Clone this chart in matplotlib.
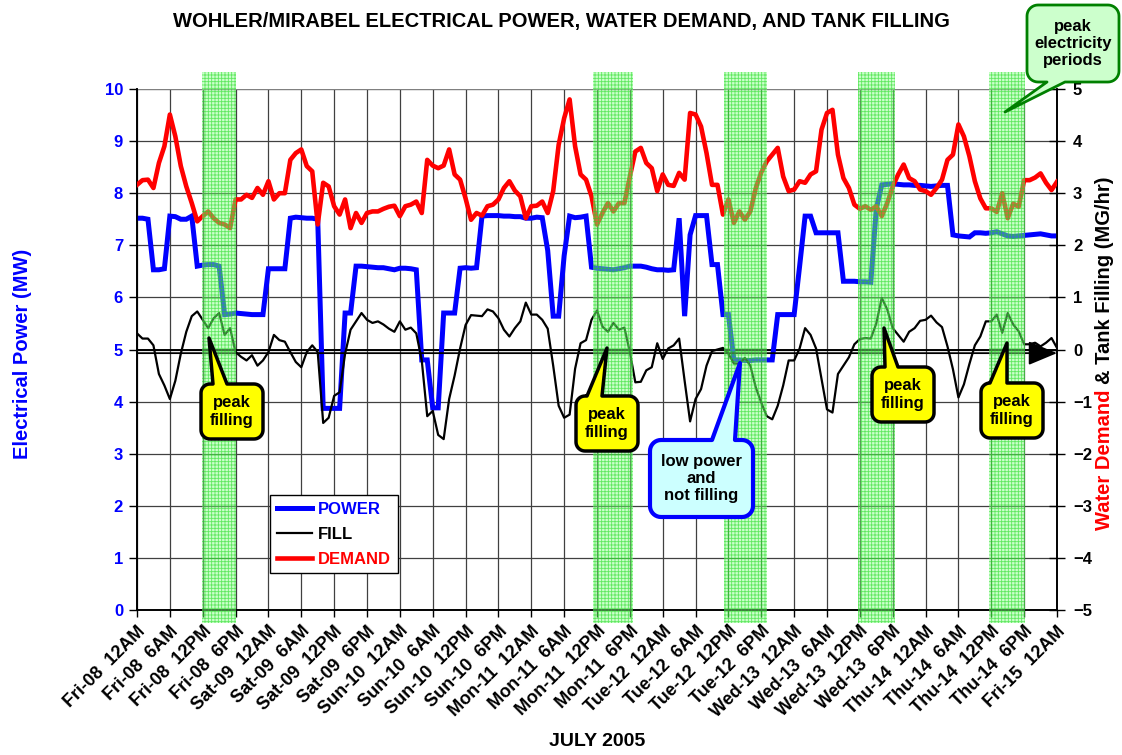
import matplotlib
matplotlib.use('Agg')
import matplotlib.pyplot as plt
import matplotlib.transforms as mtransforms
from matplotlib.patches import Polygon, Rectangle
import numpy as np

plt.rcParams['font.family'] = ['Liberation Sans', 'DejaVu Sans']
plt.rcParams['font.weight'] = 'bold'
plt.rcParams['hatch.linewidth'] = 0.6

W, H = 1122, 755

# ---------------- data ----------------
days = ['Fri-08', 'Sat-09', 'Sun-10', 'Mon-11', 'Tue-12', 'Wed-13', 'Thu-14']
times = ['12AM', '6AM', '12PM', '6PM']
tick_labels = [f'{d}  {t}' for d in days for t in times] + ['Fri-15  12AM']

hours = list(range(169))  # hourly from Fri-08 12AM to Fri-15 12AM

power = [7.52, 7.52, 7.50, 6.53, 6.53, 6.55, 7.56, 7.55, 7.50, 7.50,
         7.56, 6.60, 6.62, 6.63, 6.63, 6.60, 5.67, 5.68, 5.70, 5.69,
         5.68, 5.67, 5.67, 5.67, 6.55, 6.55, 6.55, 6.55, 7.52, 7.54,
         7.53, 7.52, 7.52, 7.50, 3.87, 3.87, 3.87, 3.87, 5.70, 5.70,
         6.60, 6.60, 6.59, 6.58, 6.57, 6.57, 6.55, 6.53, 6.56, 6.56,
         6.55, 6.53, 4.80, 4.80, 3.88, 3.88, 5.70, 5.70, 5.70, 6.56,
         6.57, 6.56, 6.57, 7.56, 7.57, 7.57, 7.57, 7.56, 7.56, 7.55,
         7.55, 7.52, 7.52, 7.54, 7.53, 6.90, 5.64, 5.64, 6.80, 7.56,
         7.53, 7.54, 7.56, 6.58, 6.56, 6.55, 6.54, 6.53, 6.55, 6.57,
         6.60, 6.60, 6.60, 6.58, 6.55, 6.53, 6.53, 6.52, 6.53, 7.52,
         5.64, 7.20, 7.57, 7.57, 7.57, 6.63, 6.63, 5.67, 5.67, 4.80,
         4.80, 4.79, 4.79, 4.80, 4.80, 4.80, 4.80, 5.67, 5.67, 5.67,
         5.67, 6.60, 7.56, 7.56, 7.24, 7.24, 7.24, 7.24, 7.24, 6.31,
         6.31, 6.31, 6.30, 6.30, 6.29, 7.70, 8.16, 8.17, 8.18, 8.17,
         8.16, 8.16, 8.15, 8.15, 8.14, 8.13, 8.14, 8.15, 8.15, 7.20,
         7.18, 7.17, 7.16, 7.24, 7.24, 7.23, 7.24, 7.26, 7.22, 7.18,
         7.17, 7.18, 7.19, 7.20, 7.21, 7.22, 7.20, 7.18, 7.18]

fill = [0.31, 0.21, 0.21, 0.08, -0.47, -0.69, -0.95, -0.60, -0.08, 0.34,
        0.64, 0.73, 0.57, 0.41, 0.60, 0.70, 0.28, 0.41, -0.05, -0.14,
        -0.21, -0.11, -0.31, -0.21, -0.05, 0.28, 0.18, 0.15, -0.05, -0.24,
        -0.34, -0.05, 0.08, -0.05, -1.41, -1.31, -0.89, -0.82, -0.08, 0.38,
        0.54, 0.70, 0.57, 0.51, 0.54, 0.48, 0.40, 0.34, 0.54, 0.38,
        0.42, 0.31, -0.21, -1.28, -1.18, -1.64, -1.72, -0.95, -0.50, 0.02,
        0.47, 0.66, 0.65, 0.64, 0.77, 0.73, 0.60, 0.38, 0.25, 0.41,
        0.54, 0.90, 0.67, 0.67, 0.57, 0.40, -0.31, -1.08, -1.31, -1.25,
        -0.37, 0.12, 0.18, 0.57, 0.75, 0.44, 0.34, 0.51, 0.38, 0.42,
        -0.05, -0.63, -0.62, -0.40, -0.34, 0.12, -0.18, 0.02, 0.08, 0.21,
        -0.60, -1.38, -0.95, -0.76, -0.31, -0.03, 0.00, 0.03, -0.08, -0.27,
        -0.27, -0.16, -0.31, -0.73, -1.02, -1.28, -1.34, -1.08, -0.69, -0.21,
        -0.21, 0.02, 0.41, 0.28, 0.02, -0.56, -1.15, -1.21, -0.47, -0.31,
        -0.15, 0.10, 0.20, 0.22, 0.21, 0.50, 0.99, 0.77, 0.41, 0.28,
        0.15, 0.34, 0.41, 0.55, 0.57, 0.65, 0.52, 0.43, 0.06, -0.38,
        -0.92, -0.67, -0.28, 0.08, 0.25, 0.54, 0.54, 0.67, 0.32, 0.70,
        0.48, 0.35, 0.10, 0.10, 0.13, 0.06, 0.13, 0.22, 0.03]

demand = [3.16, 3.25, 3.26, 3.10, 3.58, 3.90, 4.51, 4.09, 3.52, 3.13,
          2.81, 2.46, 2.56, 2.65, 2.52, 2.43, 2.40, 2.33, 2.88, 2.88,
          2.97, 2.91, 3.10, 2.97, 3.23, 2.88, 3.00, 3.00, 3.64, 3.77,
          3.84, 3.52, 3.42, 2.40, 3.20, 3.13, 2.75, 2.59, 2.88, 2.33,
          2.62, 2.43, 2.62, 2.65, 2.65, 2.70, 2.74, 2.76, 2.56, 2.75,
          2.78, 2.84, 2.62, 3.64, 3.53, 3.48, 3.53, 3.84, 3.36, 3.26,
          2.90, 2.49, 2.62, 2.57, 2.75, 2.78, 2.88, 3.10, 3.23, 3.05,
          2.94, 2.52, 2.75, 2.76, 2.84, 2.62, 3.04, 3.93, 4.44, 4.80,
          3.90, 3.36, 3.26, 2.94, 2.40, 2.62, 2.81, 2.65, 2.81, 2.81,
          3.32, 3.80, 3.87, 3.58, 3.48, 3.04, 3.36, 3.16, 3.14, 3.39,
          3.26, 4.54, 4.51, 4.28, 3.77, 3.16, 3.16, 2.59, 2.88, 2.43,
          2.65, 2.49, 2.65, 3.10, 3.40, 3.61, 3.74, 3.87, 3.32, 3.04,
          3.07, 3.23, 3.20, 3.36, 3.42, 4.22, 4.54, 4.60, 3.74, 3.29,
          3.10, 2.78, 2.70, 2.75, 2.68, 2.75, 2.56, 2.81, 3.13, 3.36,
          3.55, 3.29, 3.23, 3.07, 3.04, 2.97, 3.10, 3.26, 3.64, 3.74,
          4.32, 4.09, 3.71, 3.23, 2.90, 2.71, 2.71, 2.64, 3.00, 2.52,
          2.80, 2.74, 3.25, 3.25, 3.30, 3.38, 3.20, 3.06, 3.22]

peak_periods = [(11.9, 18.0), (83.2, 90.6), (107.2, 115.1), (131.7, 138.4), (155.5, 162.2)]

title = 'WOHLER/MIRABEL ELECTRICAL POWER, WATER DEMAND, AND TANK FILLING'

# ---------------- figure ----------------
fig = plt.figure(figsize=(W / 100, H / 100), dpi=100)
ax = fig.add_axes([137 / W, 1 - 610 / H, 920 / W, 521 / H])
ax2 = ax.twinx()

ax.set_xlim(0, 168)
ax.set_ylim(0, 10)
ax2.set_ylim(-5, 5)

ax.set_xticks(range(0, 169, 6))
ax.set_xticklabels(tick_labels, rotation=45, ha='right', va='top',
                   rotation_mode='anchor', fontsize=13, fontweight='bold')
shift = mtransforms.ScaledTranslation(-6 / 100, -6 / 100, fig.dpi_scale_trans)
for lab in ax.get_xticklabels():
    lab.set_transform(lab.get_transform() + shift)
ax.set_yticks(range(0, 11))
ax2.set_yticks(range(-5, 6))
ax.tick_params(axis='x', direction='out', length=5, width=1, pad=4)
ax.tick_params(axis='y', direction='out', length=6, width=1, labelsize=12,
               labelcolor='blue', pad=4)
ax2.tick_params(axis='y', direction='inout', length=11, width=1, labelsize=12,
                labelcolor='black', pad=6)
for lab in ax.get_yticklabels() + ax2.get_yticklabels():
    lab.set_fontweight('bold')

ax.grid(True, color='#404040', lw=0.9)
ax.set_axisbelow(True)
for a in (ax, ax2):
    a.spines['top'].set_visible(False)
    for s in ('left', 'right', 'bottom'):
        a.spines[s].set_linewidth(1.2)
ax.axhline(10, color='#808080', lw=1.5, zorder=1)
ax.axhline(5, color='black', lw=1.4, zorder=1)

# series
l_power, = ax.plot(hours, power, color='#0000ff', lw=3.6, solid_joinstyle='miter', zorder=3)
l_fill, = ax2.plot(hours, fill, color='black', lw=1.6, zorder=3)
l_demand, = ax2.plot(hours, demand, color='#ff0000', lw=3.3, zorder=3)

# zero arrow for tank filling
ax2.annotate('', xy=(168, -0.07), xytext=(0, -0.07),
             arrowprops=dict(arrowstyle='-|>,head_length=1.8,head_width=0.75',
                             mutation_scale=10, color='black', lw=1.3,
                             shrinkA=0, shrinkB=0),
             annotation_clip=False, zorder=4)

# peak electricity shading
blend = mtransforms.blended_transform_factory(ax2.transData, ax2.transAxes)
for s, e in peak_periods:
    ax2.add_patch(Rectangle((s, -0.025), e - s, 1.058, transform=blend,
                            facecolor=(0.55, 1.0, 0.55, 0.45),
                            edgecolor=(0.1, 0.85, 0.1, 0.6), hatch='+++++',
                            lw=0, clip_on=False, zorder=5))

# legend
leg = ax2.legend([l_power, l_fill, l_demand], ['POWER', 'FILL', 'DEMAND'],
                 loc='upper left', bbox_to_anchor=(270 / W, 1 - 495 / H),
                 bbox_transform=fig.transFigure, borderaxespad=0,
                 frameon=True, fancybox=False, edgecolor='black', framealpha=1,
                 prop={'size': 12, 'weight': 'bold'},
                 labelcolor=['blue', 'black', 'red'], handlelength=2.1,
                 handletextpad=0.4, borderpad=0.4, labelspacing=0.6)
leg.get_frame().set_linewidth(1.0)
leg.set_zorder(20)

# texts
fig.text(561 / W, 1 - 22 / H, title, ha='center', va='center', fontsize=14.5,
         fontweight='bold')
fig.text(597 / W, 1 - 741 / H, 'JULY 2005', ha='center', va='center',
         fontsize=14, fontweight='bold')
fig.text(23 / W, 1 - 354 / H, 'Electrical Power (MW)', rotation=90, ha='center',
         va='center', color='blue', fontsize=14.5, fontweight='bold')
t1 = fig.text(1104 / W, 1 - 530 / H, 'Water Demand', rotation=90, ha='center',
              va='bottom', color='red', fontsize=14.5, fontweight='bold')
fig.canvas.draw()
bb = t1.get_window_extent(fig.canvas.get_renderer())
fig.text(1104 / W, (bb.y1 + 5) / H, '& Tank Filling (MG/hr)', rotation=90,
         ha='center', va='bottom', color='black', fontsize=14.5, fontweight='bold')

# callouts (figure pixel coords, y down)
pix = mtransforms.Affine2D().scale(1 / W, -1 / H).translate(0, 1) + fig.transFigure


def callout(x0, y0, x1, y1, a, b, tip, side, fc, ec, lw, text, r=9):
    def arc(cx, cy, a0, a1, n=10):
        t = np.radians(np.linspace(a0, a1, n))
        return list(zip(cx + r * np.cos(t), cy + r * np.sin(t)))
    pts = arc(x0 + r, y0 + r, 180, 270)
    if side == 'top':
        pts += [(a, y0), tip, (b, y0)]
    pts += arc(x1 - r, y0 + r, 270, 360)
    pts += arc(x1 - r, y1 - r, 0, 90)
    if side == 'bottom':
        pts += [(b, y1), tip, (a, y1)]
    pts += arc(x0 + r, y1 - r, 90, 180)
    poly = Polygon(pts, closed=True, transform=pix, facecolor=fc, edgecolor=ec,
                   lw=lw, joinstyle='round', clip_on=False, zorder=30)
    fig.add_artist(poly)
    fig.text((x0 + x1) / 2 / W, 1 - (y0 + y1) / 2 / H, text, ha='center',
             va='center', fontsize=12, fontweight='bold', linespacing=1.2,
             zorder=31)


callout(1027, 5, 1119, 82, 1047, 1065, (1005, 112), 'bottom', '#ccffcc', '#008000', 2.0,
        'peak\nelectricity\nperiods', r=11)
callout(201, 384, 263, 439, 213, 227, (209, 338), 'top', '#ffff00', 'black', 2.5,
        'peak\nfilling')
callout(576, 396, 638, 451, 587, 602, (607, 348), 'top', '#ffff00', 'black', 2.5,
        'peak\nfilling')
callout(872, 367, 934, 422, 885, 898, (884, 328), 'top', '#ffff00', 'black', 2.5,
        'peak\nfilling')
callout(981, 383, 1043, 438, 990, 1007, (1007, 343), 'top', '#ffff00', 'black', 2.5,
        'peak\nfilling')
callout(650, 440, 753, 517, 712, 735, (740, 363), 'top', '#ccffff', '#0000ff', 3.0,
        'low power\nand\nnot filling', r=11)

fig.savefig('out.png', dpi=100)
